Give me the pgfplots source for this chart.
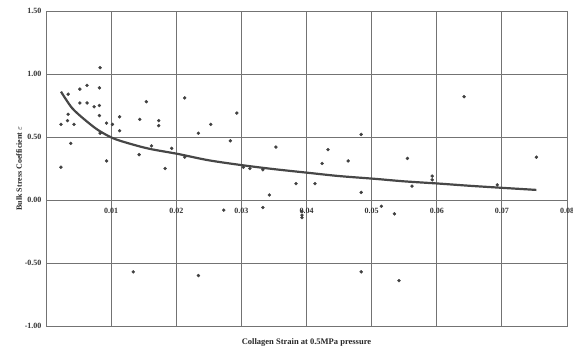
\documentclass[border=0pt]{standalone}
\usepackage{fontspec}
\setmainfont{Liberation Serif}
\usepackage{pgfplots}
\pgfplotsset{compat=1.18}
\begin{document}
\begin{tikzpicture}
\begin{axis}[
  name=ax,
  scale only axis,
  width=521pt, height=315pt,
  xmin=0, xmax=0.08, ymin=-1, ymax=1.5,
  scaled x ticks=false, scaled y ticks=false,
  xtick={0.01,0.02,...,0.08},
  xticklabels={0.01,0.02,0.03,0.04,0.05,0.06,0.07,0.08},
  ytick={-1,-0.5,0,0.5,1,1.5},
  yticklabels={-1.00,-0.50,0.00,0.50,1.00,1.50},
  /pgf/number format/assume math mode=true,
  tick style={draw=none},
  grid=major,
  major grid style={black!55, line width=0.8pt},
  axis line style={black!55, line width=0.8pt},
  tick label style={font=\fontsize{8}{9.5}\selectfont\bfseries, text=black!80},
  xticklabel style={yshift=121pt, anchor=north},
  yticklabel style={xshift=-1pt},
  xlabel={Collagen Strain at 0.5MPa pressure},
  ylabel={Bulk Stress Coefficient $\varepsilon$},
  xlabel style={at={(axis description cs:0.5,0)}, anchor=north, yshift=-9pt, font=\fontsize{8.5}{10}\selectfont\bfseries, text=black!85},
  ylabel style={font=\fontsize{8}{9.5}\selectfont\bfseries, text=black!85, yshift=-4pt},
]
\addplot[only marks, mark=*, mark size=1.5pt, black!75] coordinates {
(0.0083,1.05) (0.0052,0.88) (0.0063,0.91) (0.0082,0.89) (0.0034,0.84)
(0.0052,0.77) (0.0063,0.77) (0.0074,0.74) (0.0082,0.75) (0.0034,0.68)
(0.0033,0.63) (0.0023,0.60) (0.0043,0.60) (0.0082,0.67) (0.0093,0.61)
(0.0102,0.60) (0.0113,0.66) (0.0154,0.78) (0.0144,0.64) (0.0173,0.63)
(0.0173,0.59) (0.0213,0.81) (0.0083,0.53) (0.0113,0.55) (0.0038,0.45)
(0.0023,0.26) (0.0093,0.31) (0.0143,0.36) (0.0183,0.25) (0.0234,0.53)
(0.0162,0.43) (0.0193,0.41) (0.0293,0.69) (0.0253,0.60) (0.0283,0.47)
(0.0213,0.34) (0.0303,0.26) (0.0313,0.25) (0.0333,0.24) (0.0273,-0.08)
(0.0353,0.42) (0.0433,0.40) (0.0424,0.29) (0.0464,0.31) (0.0484,0.52)
(0.0384,0.13) (0.0413,0.13) (0.0343,0.04) (0.0484,0.06) (0.0333,-0.06)
(0.0393,-0.09) (0.0393,-0.12) (0.0393,-0.14) (0.0515,-0.05) (0.0535,-0.11)
(0.0484,-0.57) (0.0542,-0.64) (0.0134,-0.57) (0.0234,-0.60) (0.0555,0.33)
(0.0562,0.11) (0.0593,0.19) (0.0593,0.16) (0.0693,0.12) (0.0753,0.34)
(0.0642,0.82)
};
\addplot[smooth, line width=2.2pt, black!72] coordinates {
(0.0023,0.86) (0.004,0.73) (0.006,0.635) (0.008,0.555) (0.0103,0.49)
(0.013,0.445) (0.016,0.405) (0.0203,0.365) (0.025,0.315) (0.0303,0.275)
(0.035,0.245) (0.0404,0.215) (0.045,0.19) (0.0505,0.168) (0.055,0.148)
(0.0604,0.13) (0.065,0.113) (0.0702,0.096) (0.0753,0.08)
};
\end{axis}
\pgfresetboundingbox
\path ([xshift=-46pt,yshift=-27pt]ax.south west) rectangle ([xshift=6pt,yshift=11pt]ax.north east);
\end{tikzpicture}
\end{document}
